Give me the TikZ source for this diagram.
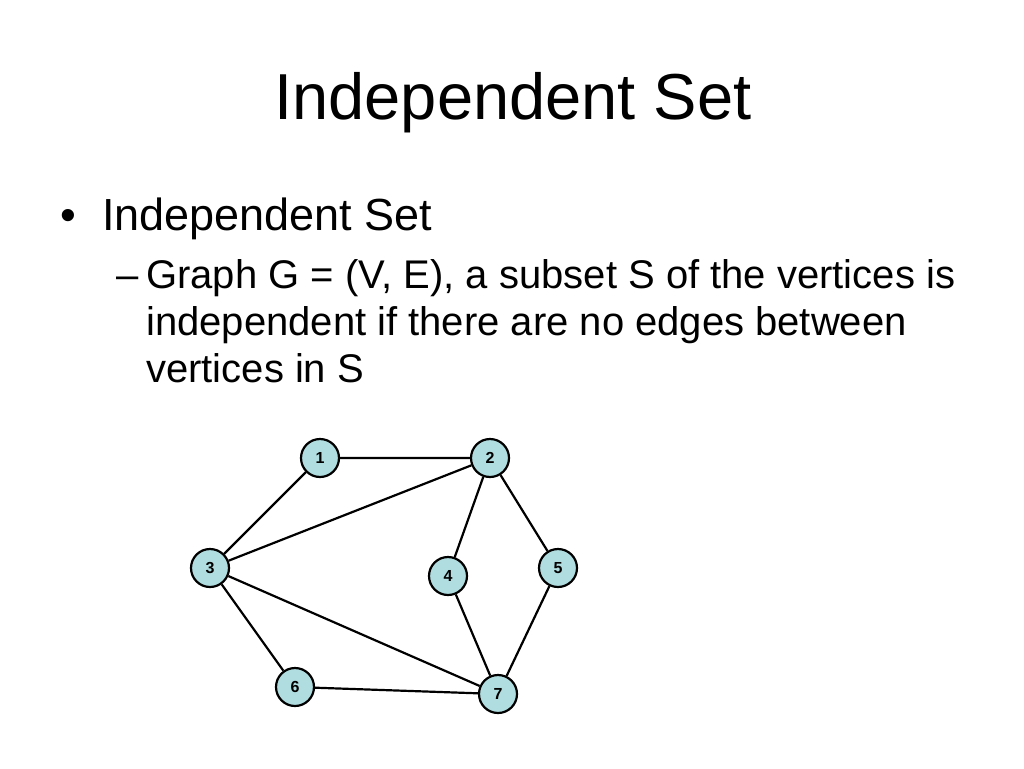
\documentclass[tikz,border=0pt]{standalone}
\usepackage{fontspec}
\setmainfont{Liberation Sans}
\begin{document}
\begin{tikzpicture}[x=1pt,y=-1pt,
  vtx/.style={circle,draw,line width=2.2pt,fill={rgb,255:red,176;green,221;blue,224},minimum size=38pt,inner sep=0pt,font=\fontsize{16}{18}\selectfont\bfseries},
  edge/.style={line width=2.2pt},
  body/.style={anchor=base west,inner sep=0,font=\fontsize{40}{48}\selectfont}]
\useasboundingbox (0,0) rectangle (1024,768);
\node[anchor=base] (title) at (513,119) {\fontsize{65}{75}\selectfont Independent Set};
\node[anchor=base west,inner sep=0,font=\fontsize{45}{54}\selectfont] (bd) at (60,230) {•};
\node[anchor=base west,inner sep=0,font=\fontsize{45}{54}\selectfont] (b1) at (102,230) {Independent Set};
\node[body] (d1) at (116,288) {–};
\node[body] (l1) at (146,288) {Graph G = (V, E), a subset S of the vertices is};
\node[body] (l2) at (146,335) {independent if there are no edges between};
\node[body] (l3) at (146,382) {vertices in S};
\node[vtx] (n1) at (320,458) {1};
\node[vtx] (n2) at (490,458) {2};
\node[vtx] (n3) at (210,568) {3};
\node[vtx] (n4) at (448,576) {4};
\node[vtx] (n5) at (558,568) {5};
\node[vtx] (n6) at (295,687) {6};
\node[vtx] (n7) at (498,694) {7};
\draw[edge] (n1)--(n2) (n1)--(n3) (n3)--(n2) (n2)--(n4) (n2)--(n5) (n3)--(n7) (n3)--(n6) (n6)--(n7) (n4)--(n7) (n5)--(n7);
\end{tikzpicture}
\end{document}
